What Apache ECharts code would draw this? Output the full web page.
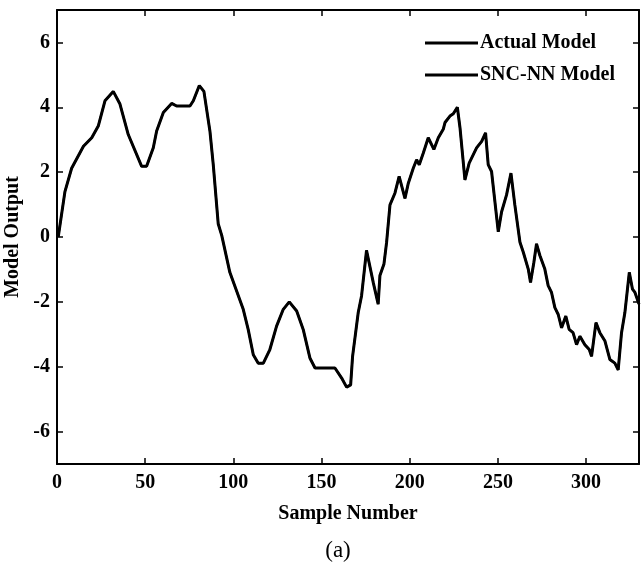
<!DOCTYPE html>
<html>
<head>
<meta charset="utf-8">
<script src="https://cdn.jsdelivr.net/npm/echarts@6/dist/echarts.min.js"></script>
<style>
html,body{margin:0;padding:0;background:#fff;}
#c{width:641px;height:569px;}
</style>
</head>
<body>
<div id="c"></div>
<script>
const sampleX = [0.7,4.5,8.3,15,19.7,23.4,27.2,31.9,35.7,40.4,48,50.8,54.6,56.5,60.3,65,67.8,75.4,77.3,80.7,83.3,86.7,88.6,91.4,93.4,98,105.6,108.4,111.3,114.1,117,120.7,124.5,128.3,131.7,135.9,139.6,143.4,146.3,157.6,161.4,164.2,166.5,167.6,170.8,172.7,175.5,176.5,179.3,182.1,183.1,185.4,186.9,188.8,191.6,194,197.3,199.2,202,203.9,205.4,207.7,210.5,213.7,216.2,219,220,222.8,224.7,227,228.5,231.3,233.7,237.9,240.8,243,244.5,246.4,250.2,252.1,254.9,257.4,259.6,262.5,264.4,267.2,268.5,270.4,271.9,273.8,276.6,278.5,280.4,282.3,284.2,286.1,288.5,290.4,292.6,294.6,296.5,299.3,301.8,303.1,305.6,307.8,310.7,313.5,316.3,318.2,320.1,322,324.5,326.3,327.7,330];
const actualY = [0,1.4,2.12,2.8,3.06,3.42,4.2,4.49,4.1,3.16,2.18,2.18,2.75,3.27,3.84,4.12,4.04,4.04,4.2,4.67,4.49,3.27,2.23,0.41,0.05,-1.09,-2.23,-2.85,-3.63,-3.89,-3.89,-3.47,-2.75,-2.23,-2.0,-2.28,-2.85,-3.73,-4.04,-4.04,-4.35,-4.63,-4.56,-3.68,-2.33,-1.81,-0.41,-0.67,-1.4,-2.07,-1.19,-0.83,-0.16,0.99,1.35,1.87,1.19,1.66,2.12,2.38,2.23,2.59,3.06,2.7,3.06,3.32,3.53,3.73,3.8,4.0,3.37,1.76,2.28,2.75,2.95,3.21,2.23,2.02,0.16,0.78,1.3,1.97,0.99,-0.16,-0.47,-0.99,-1.4,-0.78,-0.21,-0.57,-0.99,-1.5,-1.71,-2.18,-2.39,-2.8,-2.44,-2.85,-2.95,-3.32,-3.06,-3.32,-3.47,-3.68,-2.64,-2.95,-3.21,-3.78,-3.89,-4.1,-2.95,-2.33,-1.09,-1.61,-1.71,-2.07];
const sncY = [0,1.4,2.12,2.8,3.06,3.42,4.2,4.49,4.1,3.16,2.18,2.18,2.75,3.27,3.84,4.12,4.04,4.04,4.2,4.67,4.49,3.27,2.23,0.41,0.05,-1.09,-2.23,-2.85,-3.63,-3.89,-3.89,-3.47,-2.75,-2.23,-2.0,-2.28,-2.85,-3.73,-4.04,-4.04,-4.35,-4.63,-4.56,-3.68,-2.33,-1.81,-0.41,-0.67,-1.4,-2.07,-1.19,-0.83,-0.16,0.99,1.35,1.87,1.19,1.66,2.12,2.38,2.23,2.59,3.06,2.7,3.06,3.32,3.53,3.73,3.8,4.0,3.37,1.76,2.28,2.75,2.95,3.21,2.23,2.02,0.16,0.78,1.3,1.97,0.99,-0.16,-0.47,-0.99,-1.4,-0.78,-0.21,-0.57,-0.99,-1.5,-1.71,-2.18,-2.39,-2.8,-2.44,-2.85,-2.95,-3.32,-3.06,-3.32,-3.47,-3.68,-2.64,-2.95,-3.21,-3.78,-3.89,-4.1,-2.95,-2.33,-1.09,-1.61,-1.71,-2.07];
const seriesNames = ['Actual Model','SNC-NN Model'];
const xTicks = [0,50,100,150,200,250,300];
const yTicks = [-6,-4,-2,0,2,4,6];
const xAxisName = 'Sample Number';
const yAxisName = 'Model Output';
const caption = '(a)';

const serif = '"Liberation Serif", "DejaVu Serif", serif';
const chart = echarts.init(document.getElementById('c'), null, {renderer:'canvas'});
const pairs = ys => sampleX.map((x,i)=>[x, ys[i]]);
const tickX = {show:true, inside:true, length:6, lineStyle:{color:'#000', width:1.5}, customValues:xTicks};
const tickY = {show:true, inside:true, length:6, lineStyle:{color:'#000', width:1.5}, customValues:yTicks};
const lineAx = {show:true, onZero:false, lineStyle:{color:'#000', width:2}};
const lblFont = {fontFamily:serif, fontWeight:'bold', fontSize:20, color:'#000'};
chart.setOption({
  animation:false,
  backgroundColor:'#fff',
  grid:{left:57, top:10, right:2, bottom:105, containLabel:false, outerBoundsMode:'none'},
  legend:{
    left:420, top:28, orient:'vertical', itemGap:12,
    itemWidth:53, itemHeight:3, icon:'rect',
    textStyle:{fontFamily:serif, fontWeight:'bold', fontSize:20, color:'#000', padding:[0,0,0,-3]},
    data:seriesNames
  },
  graphic:[{type:'text', x:338, y:551, style:{text:caption, fontFamily:serif, fontSize:23, fill:'#000', align:'center', verticalAlign:'middle'}}],
  xAxis:[{
    type:'value', min:0, max:330, position:'bottom',
    axisLine:lineAx, axisTick:tickX, splitLine:{show:false},
    axisLabel:Object.assign({margin:9, customValues:xTicks}, lblFont),
    name:xAxisName, nameLocation:'middle', nameGap:40,
    nameTextStyle:lblFont
  },{
    type:'value', min:0, max:330, position:'top',
    axisLine:lineAx, axisTick:tickX, axisLabel:{show:false}, splitLine:{show:false}
  }],
  yAxis:[{
    type:'value', min:-7, max:7, position:'left',
    axisLine:lineAx, axisTick:tickY, splitLine:{show:false},
    axisLabel:Object.assign({margin:7, customValues:yTicks}, lblFont),
    name:yAxisName, nameLocation:'middle', nameGap:32, nameRotate:90,
    nameTextStyle:lblFont
  },{
    type:'value', min:-7, max:7, position:'right',
    axisLine:lineAx, axisTick:tickY, axisLabel:{show:false}, splitLine:{show:false}
  }],
  series:[
    {name:seriesNames[0], type:'line', data:pairs(actualY), showSymbol:false, symbol:'none',
     lineStyle:{color:'#000', width:3}, itemStyle:{color:'#000'}},
    {name:seriesNames[1], type:'line', data:pairs(sncY), showSymbol:false, symbol:'none',
     lineStyle:{color:'#000', width:2}, itemStyle:{color:'#000'}}
  ]
});
</script>
</body>
</html>
